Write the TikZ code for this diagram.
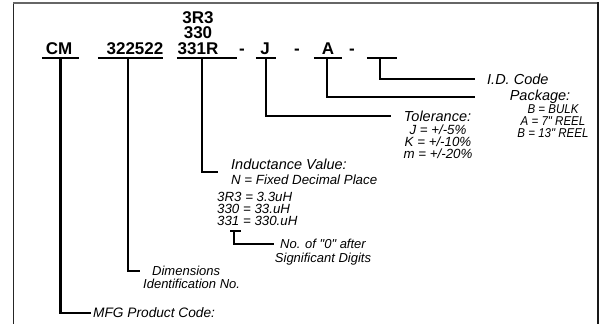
\documentclass[tikz,border=0pt]{standalone}
\usepackage{fontspec}
\setmainfont{Liberation Sans}[Ligatures=TeXOff]
\newfontfamily\condsans{Liberation Sans}[Ligatures=TeXOff, FakeStretch=0.9]
\usetikzlibrary{positioning}

\tikzset{
  code/.style={font=\fontsize{17}{17}\selectfont\bfseries, inner sep=0pt},
  slot/.style={inner sep=0pt, minimum height=0pt},
  bar/.style={line width=2.4pt},
  leg/.style={line width=2.4pt, line join=miter},
  head/.style={font=\fontsize{14.5}{14.5}\selectfont\itshape, inner sep=2pt},
  lbl/.style={font=\fontsize{13}{13}\selectfont\itshape, inner sep=2pt},
  det/.style={font=\fontsize{13.3}{12}\selectfont\itshape, inner sep=0pt},
}

\begin{document}
\begin{tikzpicture}[x=1pt,y=-1pt]
  \useasboundingbox (0,0) rectangle (600,324);
  % frame, open at the bottom
  \draw[line width=1pt, black!85] (13.5,324) -- (13.5,3);
  \draw[line width=1.4pt, black!60] (13,3) -- (597,3);
  \draw[line width=2pt, black!90] (597.5,2) -- (597.5,324);

  % part number
  \node[code, anchor=base] (cm) at (59,54) {CM};
  \node[code, anchor=base] (dim) at (135,54) {322522};
  \node[code, anchor=base] (ind) at (198,54) {331R};
  \node[code, above=3pt of ind] (ind2) {330};
  \node[code, above=3pt of ind2] (ind3) {3R3};
  \node[code, anchor=base] (dasha) at (242,54) {-};
  \node[code, anchor=base] (tol) at (265,54) {J};
  \node[code, anchor=base] (dashb) at (297,54) {-};
  \node[code, anchor=base] (pkg) at (328,54) {A};
  \node[code, anchor=base] (dashc) at (352,54) {-};

  % underlines
  \node[slot, minimum width=37pt] (cmslot) at (60.5,58) {};
  \node[slot, minimum width=65pt] (dimslot) at (130.5,58) {};
  \node[slot, minimum width=60pt] (indslot) at (207,58) {};
  \node[slot, minimum width=20pt] (tolslot) at (266,58) {};
  \node[slot, minimum width=28pt] (pkgslot) at (328,58) {};
  \node[slot, minimum width=30pt] (idslot) at (382,58) {};
  \foreach \s in {cmslot,dimslot,indslot,tolslot,pkgslot,idslot}
    \draw[bar] (\s.west) -- (\s.east);

  % labels
  \node[head, anchor=west] (idc) at (485,79) {I.D. Code};
  \node[head] (pkgt) at (540,97) {Package:};
  \node[det, font=\condsans\fontsize{12.8}{12}\selectfont\itshape, align=center, anchor=north]
    (pkgdet) at (553,104) {B = BULK\\A = 7" REEL\\B = 13" REEL};
  \node[head] (tolt) at (437.5,116) {Tolerance:};
  \node[det, align=center, anchor=north] (toldet) at (438,125)
    {J = +/-5\%\\K = +/-10\%\\m = +/-20\%};
  \node[head, align=left, anchor=west] (indt) at (229,172)
    {Inductance Value:\\\fontsize{13.3}{13.3}\selectfont N = Fixed Decimal Place};
  \node[det, align=left, anchor=north west] (vals) at (217,192)
    {3R3 = 3.3uH\\330 = 33.uH\\331 = 330.uH};
  \node[slot, minimum width=10pt] (zslot) at (235.5,231) {};
  \draw[line width=2pt] (zslot.west) -- (zslot.east);
  \node[lbl, anchor=west] (zero) at (278,244) {No. of "0" after};
  \node[lbl, below=0pt of zero] (zerob) {Significant Digits};
  \node[lbl, anchor=west] (dimt) at (150,271) {Dimensions};
  \node[lbl, anchor=west] (dimtb) at (141,284) {Identification No.};
  \node[lbl, font=\fontsize{13.7}{13.7}\selectfont\itshape, anchor=west] (mfg) at (91,313)
    {MFG Product Code:};

  % connectors
  \draw[leg, shorten >=10pt] ([xshift=-2pt]idslot.south) |- (idc.west);
  \draw[leg, shorten >=33pt] ([xshift=-1pt]pkgslot.south) |- (pkgt.west);
  \draw[leg, shorten >=11pt] (tolslot.south) |- (tolt.west);
  \draw[leg, shorten >=11pt] ([xshift=-5pt]indslot.south) |- (indt.west);
  \draw[leg, line width=2pt, shorten >=4pt] ([xshift=-1.2pt]zslot.south) |- (zero.west);
  \draw[leg, shorten >=10pt] ([xshift=-2.5pt]dimslot.south) |- (dimt.west);
  \draw[leg] (cmslot.south) |- (mfg.west);
\end{tikzpicture}
\end{document}
